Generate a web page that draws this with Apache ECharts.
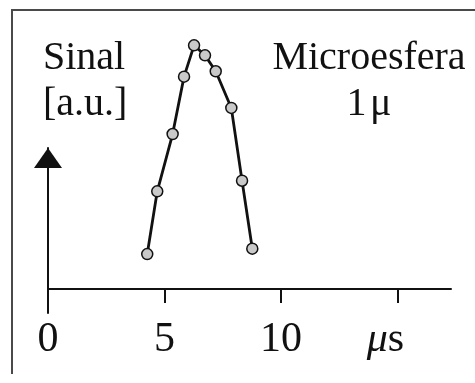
<!DOCTYPE html>
<html>
<head>
<meta charset="utf-8">
<script src="https://cdn.jsdelivr.net/npm/echarts@6/dist/echarts.min.js"></script>
<style>
  html, body { margin: 0; padding: 0; background: #fff; }
  #chart { width: 475px; height: 383px; }
</style>
</head>
<body>
<div id="chart"></div>
<script>
// Transit time of a 1 µm microsphere through the detector (µs) and signal (a.u.)
const timeUs = [4.26, 4.69, 5.35, 5.84, 6.27, 6.74, 7.20, 7.87, 8.33, 8.77];
const signal = [2.48, 6.93, 10.99, 15.06, 17.28, 16.57, 15.44, 12.84, 7.68, 2.86];
const xTicks = [0, 5, 10, 15];
const xTickLabels = ['0', '5', '10', '{mu|μ}s{pad|}'];

const serif = '"Liberation Serif", "Times New Roman", serif';
const ink = '#111111';

const chart = echarts.init(document.getElementById('chart'), null, { renderer: 'canvas' });

chart.setOption({
  backgroundColor: '#ffffff',
  animation: false,
  title: [
    {
      text: 'Sinal\n[a.u.]',
      left: 38, top: 30,
      textStyle: { fontFamily: serif, fontWeight: 'normal', fontSize: 40, lineHeight: 46, color: ink }
    },
    {
      text: 'Microesfera\n1\u200Aμ',
      left: 364, top: 30,
      textAlign: 'center',
      textStyle: { fontFamily: serif, fontWeight: 'normal', fontSize: 40, lineHeight: 46, color: ink, align: 'center' }
    }
  ],
  graphic: [
    {
      type: 'polyline',
      shape: { points: [[12, 374], [12, 10], [475, 10]] },
      style: { stroke: '#4a4a4a', lineWidth: 2, fill: null }
    }
  ],
  grid: { left: 48, top: 148, width: 403, height: 165, containLabel: false },
  xAxis: {
    type: 'value',
    min: 0, max: 17.3, interval: 5,
    axisLine: { onZero: true, lineStyle: { color: ink, width: 2 } },
    axisTick: { show: true, length: 14, lineStyle: { color: ink, width: 2 } },
    splitLine: { show: false },
    axisLabel: {
      margin: 6,
      showMaxLabel: false,
      fontFamily: serif, fontSize: 42, color: ink,
      formatter: function (v) {
        const i = xTicks.indexOf(v);
        return i >= 0 ? xTickLabels[i] : '';
      },
      rich: {
        mu: { fontFamily: serif, fontStyle: 'italic', fontSize: 42, color: ink },
        pad: { width: 24 }
      }
    }
  },
  yAxis: {
    type: 'value',
    min: -1.7, max: 10,
    axisLine: {
      onZero: false,
      lineStyle: { color: ink, width: 2 },
      symbol: ['none', 'triangle'],
      symbolSize: [28, 20],
      symbolOffset: [0, -10]
    },
    axisTick: { show: false },
    axisLabel: { show: false },
    splitLine: { show: false }
  },
  series: [
    {
      type: 'line',
      clip: false,
      data: timeUs.map((t, i) => [t, signal[i]]),
      symbol: 'circle',
      symbolSize: 11,
      lineStyle: { color: ink, width: 2.8 },
      itemStyle: { color: '#c9c9c9', borderColor: ink, borderWidth: 1.5 }
    }
  ]
});
</script>
</body>
</html>
